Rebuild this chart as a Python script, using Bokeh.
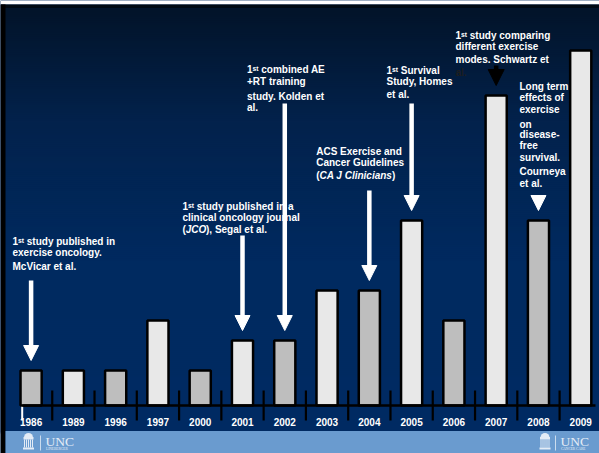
import numpy as np
from bokeh.plotting import figure
from bokeh.models import Range1d, ColumnDataSource, Arrow, NormalHead
from bokeh.core.properties import value
from bokeh.embed import file_html
from bokeh.resources import INLINE

# ---------------- data ----------------
years = ["1986", "1989", "1996", "1997", "2000", "2001", "2002",
         "2003", "2004", "2005", "2006", "2007", "2008", "2009"]
studies = [7, 7, 7, 17, 7, 13, 13, 23, 23, 37, 17, 62, 37, 71]

milestone_years = ["1986", "2001", "2002", "2004", "2005", "2007", "2008"]

# ---------------- layout helpers (pixel -> data) ----------------
W, H = 599, 453
BASE_PX = 405.0      # pixel row of the baseline
PX_PER_UNIT = 5.0
X0_PX, STEP_PX = 30.6, 42.28


def X(px):
    return (px - X0_PX) / STEP_PX


def Y(py):
    return (BASE_PX - py) / PX_PER_UNIT


idx = list(range(len(years)))
bar_fill = ["#bebebe" if i % 2 == 0 else "#e8e8e8" for i in idx]

p = figure(width=W, height=H, x_range=Range1d(X(0), X(W)), y_range=Range1d(Y(H), Y(0)),
           output_backend="svg", toolbar_location=None, min_border=0,
           x_axis_location=None, y_axis_location=None, outline_line_color=None,
           background_fill_color="#002a60", border_fill_color="white")
p.grid.visible = False

# ---------------- background gradient ----------------
stops_px = [8, 120, 260, 432]
stops_rgb = np.array([(2, 20, 42), (3, 34, 76), (0, 42, 96), (0, 43, 99)], dtype=float)
gy = np.arange(8, 432, 2)
cols = []
for g in gy:
    r = np.interp(g, stops_px, stops_rgb[:, 0])
    gg = np.interp(g, stops_px, stops_rgb[:, 1])
    b = np.interp(g, stops_px, stops_rgb[:, 2])
    cols.append("#%02x%02x%02x" % (int(r), int(gg), int(b)))
p.quad(left=X(0), right=X(W), top=[Y(g) for g in gy], bottom=[Y(g + 3) for g in gy],
       fill_color=cols, line_color=None)
# top white and black strips, left black strip
p.quad(left=X(0), right=X(W), top=Y(0), bottom=Y(4), fill_color="white", line_color=None)
p.quad(left=X(0), right=X(W), top=Y(4), bottom=Y(8), fill_color="#000a14", line_color=None)
p.quad(left=X(0), right=X(5), top=Y(4), bottom=Y(H), fill_color="black", line_color=None)
# footer band
p.quad(left=X(5), right=X(W), top=Y(430.5), bottom=Y(H), fill_color="#6a9bcf", line_color=None)

# ---------------- axis decorations ----------------
p.segment(x0=[i + 0.5 for i in idx[:-1]], x1=[i + 0.5 for i in idx[:-1]],
          y0=Y(390), y1=Y(420), line_color="black", line_width=2.2)
p.segment(x0=[X(21.7)], x1=[X(21.7)], y0=Y(385), y1=Y(420), line_color="white", line_width=2)

# ---------------- bars ----------------
src = ColumnDataSource(dict(x=idx, top=studies, fill=bar_fill, year=years))
p.vbar(x="x", top="top", bottom=0, width=0.5, fill_color="fill", line_color="black",
       line_width=2.5, source=src)
p.segment(x0=[X(22)], x1=[X(595)], y0=0, y1=0, line_color="black", line_width=2.5)

p.text(x="x", y=Y(421.5), text="year", source=src, text_color="white",
       text_font=value("Liberation Sans"), text_font_size="10px", text_font_style="bold",
       text_align="center", text_baseline="middle")

# ---------------- arrows ----------------
arrow_start_px = [280, 235, 103, 190, 103, 65, 199]
GAP = 2.0
ax = [years.index(y) for y in milestone_years]
ay_end = [studies[i] + GAP for i in ax]
ay_start = [Y(s) for s in arrow_start_px]
white_i = [k for k, y in enumerate(milestone_years) if y != "2007"]
black_i = [k for k, y in enumerate(milestone_years) if y == "2007"]
wsrc = ColumnDataSource(dict(xs=[ax[k] for k in white_i], xe=[ax[k] for k in white_i],
                             ys=[ay_start[k] for k in white_i], ye=[ay_end[k] for k in white_i]))
p.add_layout(Arrow(end=NormalHead(size=15, fill_color="white", line_color="white"),
                   x_start="xs", y_start="ys", x_end="xe", y_end="ye", source=wsrc,
                   line_color="white", line_width=4.5))
bsrc = ColumnDataSource(dict(xs=[ax[k] for k in black_i], xe=[ax[k] for k in black_i],
                             ys=[ay_start[k] for k in black_i], ye=[ay_end[k] for k in black_i]))
p.add_layout(Arrow(end=NormalHead(size=16, fill_color="black", line_color="black"),
                   x_start="xs", y_start="ys", x_end="xe", y_end="ye", source=bsrc,
                   line_color="black", line_width=4.5))

# ---------------- annotation texts ----------------
WH, DK = "white", "#1e1e1e"
B, BI = "bold", "bold italic"
lines = [
    (12, 241, "1ˢᵗ study published in", WH, B),
    (12, 252, "exercise oncology.", WH, B),
    (12, 265.5, "McVicar et al.", WH, B),

    (182, 206, "1ˢᵗ study published in a", WH, B),
    (182, 217, "clinical oncology journal", WH, B),
    (182, 229, "(", WH, B),
    (185.3, 229, "JCO", WH, BI),
    (205.5, 229, "), Segal et al.", WH, B),

    (246.5, 69, "1ˢᵗ combined AE", WH, B),
    (246.5, 81, "+RT training", WH, B),
    (246.5, 95.5, "study. Kolden et", WH, B),
    (246.5, 107, "al.", WH, B),

    (315.7, 151, "ACS Exercise and", WH, B),
    (315.7, 161.5, "Cancer Guidelines", WH, B),
    (315.7, 175, "(", WH, B),
    (319, 175, "CA J Clinicians", WH, BI),
    (391.5, 175, ")", WH, B),

    (386, 70, "1ˢᵗ Survival", WH, B),
    (386, 81, "Study, Homes", WH, B),
    (386, 94, "et al.", WH, B),

    (455, 34.5, "1ˢᵗ study comparing", WH, B),
    (455, 45.5, "different exercise", WH, B),
    (455, 59, "modes. Schwartz et", WH, B),
    (455, 72, "al.", DK, B),

    (519, 85.5, "Long term", WH, B),
    (519, 97, "effects of", WH, B),
    (519, 108.5, "exercise", WH, B),
    (519, 124, "on", WH, B),
    (519, 133.5, "disease-", WH, B),
    (519, 144.5, "free", WH, B),
    (519, 157, "survival.", WH, B),
    (519, 171, "Courneya", WH, B),
    (519, 182.5, "et al.", WH, B),
]
tsrc = ColumnDataSource(dict(x=[X(l[0]) for l in lines], y=[Y(l[1]) for l in lines],
                             t=[l[2] for l in lines], c=[l[3] for l in lines],
                             s=[l[4] for l in lines]))
p.text(x="x", y="y", text="t", text_color="c", text_font_style="s", source=tsrc,
       text_font=value("Liberation Sans"), text_font_size="10px",
       text_align="left", text_baseline="middle")

# ---------------- footer logos ----------------
LOGO = "#e4ecf6"


def well(cx):
    p.quad(left=X(cx - 5), right=X(cx + 5), top=Y(436.5), bottom=Y(439),
           fill_color=LOGO, line_color=None)
    p.segment(x0=[X(cx + d) for d in (-4, -2, 0, 2, 4)], x1=[X(cx + d) for d in (-4, -2, 0, 2, 4)],
              y0=Y(439), y1=Y(447), line_color=LOGO, line_width=1)
    p.quad(left=X(cx - 5.5), right=X(cx + 5.5), top=Y(447), bottom=Y(449),
           fill_color=LOGO, line_color=None)
    p.wedge(x=[X(cx)], y=[Y(437)], radius=4.5 / STEP_PX, start_angle=0, end_angle=np.pi,
            radius_units="data", fill_color=LOGO, line_color=None)


well(28)
well(544.5)
p.segment(x0=[X(40), X(555)], x1=[X(40), X(555)], y0=Y(435), y1=Y(450),
          line_color=LOGO, line_width=0.8)
p.text(x=[X(45), X(560)], y=[Y(440.5), Y(440.5)], text=["UNC", "UNC"], text_color=LOGO,
       text_font=value("Liberation Serif"), text_font_size="13.5px",
       text_align="left", text_baseline="middle")
p.text(x=[X(45.5), X(560.5)], y=[Y(448), Y(448)], text=["LINEBERGER", "CANCER CARE"],
       text_color=LOGO, text_font=value("Liberation Serif"), text_font_size="3.5px",
       text_align="left", text_baseline="middle")

open("out.html", "w").write(file_html(p, INLINE))
